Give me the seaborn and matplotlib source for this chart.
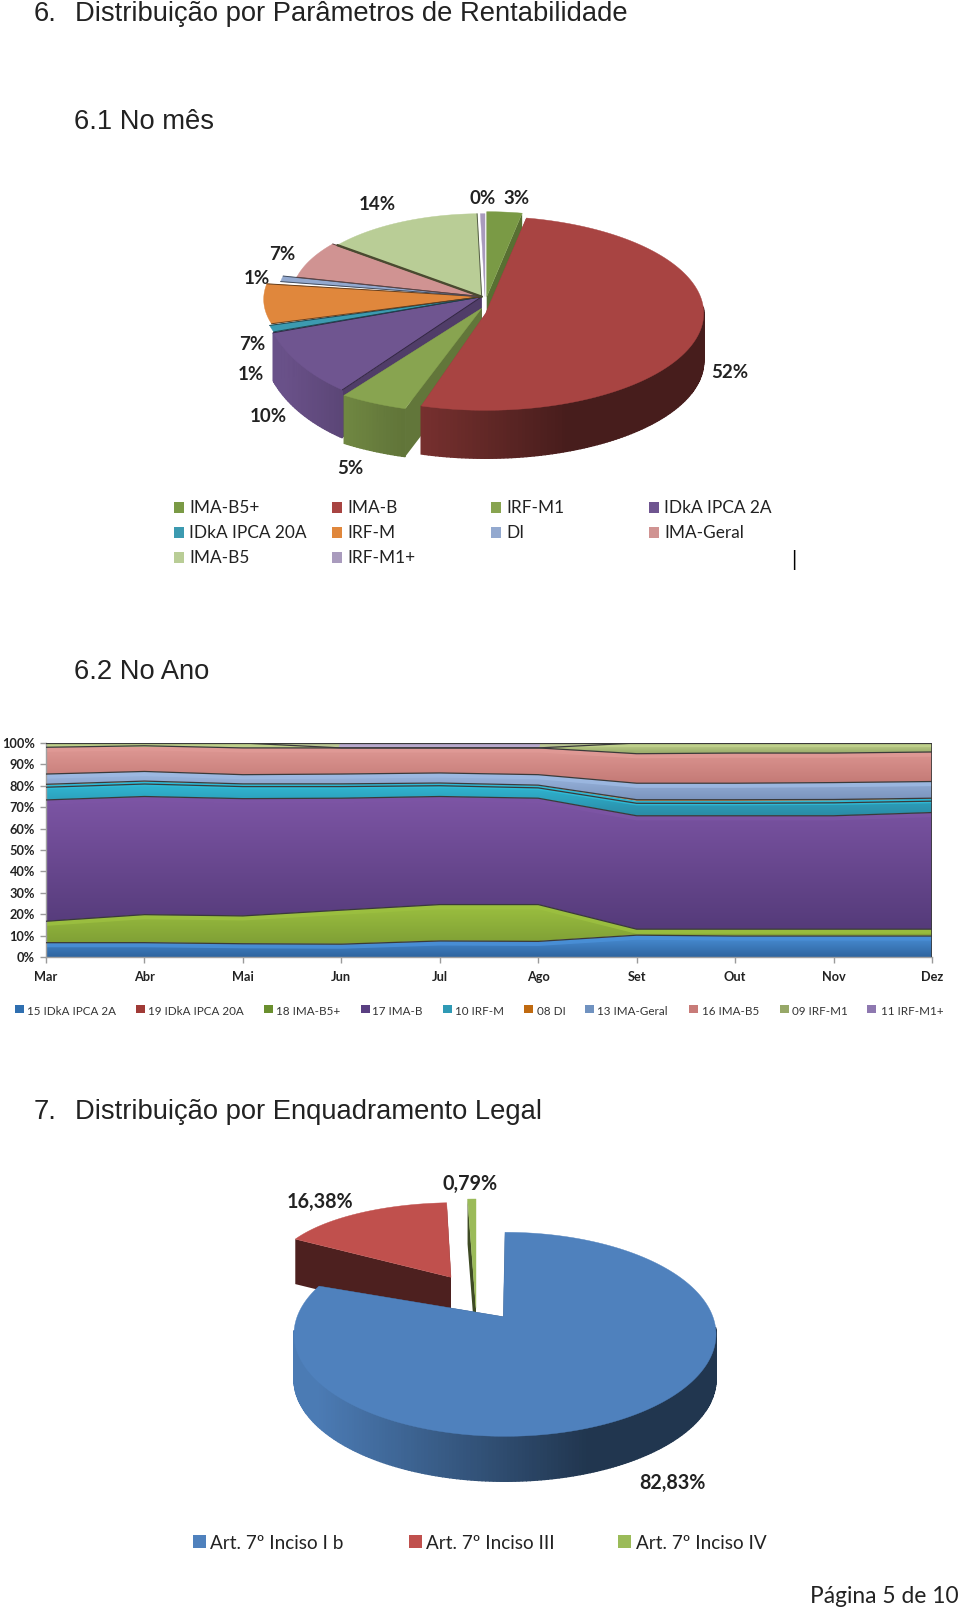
import numpy as np
import pandas as pd
import seaborn as sns
import matplotlib.pyplot as plt
from matplotlib.colors import to_rgb
from matplotlib.patches import Polygon, Rectangle
from matplotlib.transforms import ScaledTranslation

# 6.1 pie
pie1_labels = ['IMA-B5+', 'IMA-B', 'IRF-M1', 'IDkA IPCA 2A', 'IDkA IPCA 20A', 'IRF-M', 'DI', 'IMA-Geral', 'IMA-B5', 'IRF-M1+']
pie1_values = [3, 52, 5, 10, 1, 7, 1, 7, 14, 0.4]
pie1_texts = ['3%', '52%', '5%', '10%', '1%', '7%', '1%', '7%', '14%', '0%']

# 6.2 area chart
months = ['Mar', 'Abr', 'Mai', 'Jun', 'Jul', 'Ago', 'Set', 'Out', 'Nov', 'Dez']
area_labels = ['15 IDkA IPCA 2A', '19 IDkA IPCA 20A', '18 IMA-B5+', '17 IMA-B', '10 IRF-M', '08 DI', '13 IMA-Geral', '16 IMA-B5', '09 IRF-M1', '11 IRF-M1+']
idka2a = [6.7, 6.7, 6.2, 6.0, 7.5, 7.3, 10.2, 9.8, 9.8, 9.8]
idka20a = [0.1, 0.1, 0.1, 0.1, 0.1, 0.1, 0.1, 0.1, 0.1, 0.1]
imab5plus = [9.9, 13.0, 12.9, 15.8, 16.9, 17.1, 2.7, 3.1, 3.1, 3.1]
imab = [56.7, 55.2, 54.8, 52.3, 50.5, 49.7, 53.0, 53.0, 53.0, 54.5]
irfm = [7.1, 7.0, 6.8, 6.6, 6.2, 6.0, 7.0, 7.0, 7.2, 6.5]
di = [0.2, 0.2, 0.1, 0.1, 0.1, 0.1, 0.5, 0.5, 0.4, 0.2]
imageral = [4.8, 4.5, 4.3, 4.6, 4.7, 4.9, 7.7, 7.7, 7.9, 7.8]
imab5 = [12.5, 12.0, 12.5, 12.2, 11.7, 12.5, 13.8, 14.1, 13.8, 13.8]
irfm1 = [2.0, 1.3, 2.3, 0, 0, 0, 5.0, 4.7, 4.7, 4.2]
irfm1plus = [0, 0, 0, 2.3, 2.3, 2.3, 0, 0, 0, 0]

# 7 pie
pie2_labels = ['Art. 7º Inciso I b', 'Art. 7º Inciso III', 'Art. 7º Inciso IV']
pie2_values = [82.83, 16.38, 0.79]
pie2_texts = ['82,83%', '16,38%', '0,79%']

pie1_colors = ['#7a9a45', '#a84442', '#88a450', '#6f5590', '#3c9ab0', '#e0873c', '#93a9cf', '#d09392', '#b9cd96', '#a99bbd']
pie2_colors = ['#4f81bd', '#c0504d', '#9bbb59']
area_top = ['#4a90d8', '#c0504d', '#9cc040', '#7d55a5', '#30bcd8', '#e08a30', '#9db9e2', '#e09a96', '#c0d28c', '#b8a4d8']
area_bot = ['#2f659f', '#8a2f2c', '#7f9f35', '#553b7a', '#2a8aa5', '#b06a20', '#7b94bd', '#c47a76', '#97a868', '#8e78b0']
area_swatch = ['#2f6fb0', '#a03a36', '#6a8f2e', '#5a3f82', '#2f9ab5', '#c06a10', '#7092c0', '#c87b78', '#97a868', '#8e78b0']

# slice shapes in px: apex x, apex y, arc centre x, arc centre y, a, b
pie1_geo = [(486.7, 296.7, 486.7, 296.7, 190, 85),
            (485.7, 313.3, 485.7, 313.3, 218, 97),
            (481.7, 308.3, 469.7, 316.0, 218, 97),
            (481.7, 296.7, 450.0, 295.0, 187, 116),
            (481.7, 296.7, 481.7, 296.7, 220, 108),
            (481.7, 296.7, 481.7, 299.3, 218, 92),
            (481.7, 296.7, 481.7, 296.7, 204, 90),
            (481.7, 296.7, 481.7, 296.7, 190, 85),
            (481.7, 296.7, 481.7, 296.7, 184, 83),
            (485.0, 296.7, 485.0, 296.7, 185, 83)]
pie2_geo = [(503.3, 1316.7, 505.0, 1334.3, 211, 102),
            (451.0, 1277.3, 455.7, 1271.7, 182, 69),
            (476.0, 1308.3, 476.0, 1270.0, 170, 71)]

sns.set_theme(style='white')
plt.rcParams['font.family'] = ['Lato', 'DejaVu Sans']

W, H = 960, 1610
fig = plt.figure(figsize=(W / 100, H / 100), dpi=100)
fig.patch.set_facecolor('white')

# overlay in pixel coords for headings, legends and the 3D pies
ov = fig.add_axes([0, 0, 1, 1], zorder=3)
ov.set_xlim(0, W)
ov.set_ylim(H, 0)
ov.axis('off')
ov.patch.set_alpha(0)


def shade(col, f):
    return tuple(c * f for c in to_rgb(col))


def pie3d(values, colors, geo, depth, face_f, wall_order, outlined=(), sep=None):
    tmp = fig.add_axes([0, 0, 0.01, 0.01])
    wedges, _ = tmp.pie(values, startangle=90, counterclock=False)
    angles = [(w.theta1, w.theta2) for w in wedges]
    tmp.remove()
    z = 1.0
    for k in wall_order:
        t1, t2 = angles[k]
        col = colors[k]
        ax_, ay_, cx, cy, a, b = geo[k]
        ts = np.radians(np.append(np.arange(t1, t2, 1.0), t2))
        xs = cx + a * np.cos(ts)
        ys = cy - b * np.sin(ts)
        # side faces first, then the rim in strips
        for i in [0, -1]:
            q = [(ax_, ay_), (xs[i], ys[i]), (xs[i], ys[i] + depth), (ax_, ay_ + depth)]
            ov.add_patch(Polygon(q, fc=shade(col, face_f), ec='none', zorder=z))
        for i in range(len(ts) - 1):
            if np.sin(ts[i]) < 0.05:
                c = shade(col, np.clip(0.58 - 0.42 * np.cos(ts[i]), 0.42, 0.95))
                q = [(xs[i], ys[i]), (xs[i + 1], ys[i + 1]), (xs[i + 1], ys[i + 1] + depth), (xs[i], ys[i] + depth)]
                ov.add_patch(Polygon(q, fc=c, ec=c, lw=1.0, zorder=z + 0.01))
        z += 0.1
    for k, ((t1, t2), col, (ax_, ay_, cx, cy, a, b)) in enumerate(zip(angles, colors, geo)):
        ts = np.radians(np.append(np.arange(t1, t2, 0.5), t2))
        pts = [(ax_, ay_)] + list(zip(cx + a * np.cos(ts), cy - b * np.sin(ts)))
        ov.add_patch(Polygon(pts, fc=col, ec=col, lw=0.3, zorder=3))
        if k in outlined:
            for p in [pts[1], pts[-1]]:
                ov.plot([ax_, p[0]], [ay_, p[1]], color=shade(col, 0.45), lw=0.7, zorder=3.2)
        if k == sep:
            ov.plot([ax_, pts[-1][0]], [ay_, pts[-1][1]], color='#4a4a30', lw=1.7, zorder=3.5)


def title(x, y, s):
    ov.text(x, y, s, family=['Liberation Sans'], fontsize=19.7, color='#222222', va='center', ha='left')


title(34, 14, '6.')
title(75, 14, 'Distribuição por Parâmetros de Rentabilidade')
title(74, 122, '6.1 No mês')
title(74, 672, '6.2 No Ano')
title(34, 1112, '7.')
title(75, 1112, 'Distribuição por Enquadramento Legal')
ov.text(959, 1596, 'Página 5 de 10', fontsize=16.4, color='#222222', ha='right', va='center')

# 6.1
pie3d(pie1_values, pie1_colors, pie1_geo, 48, 0.72, [3, 0, 2, 1], outlined=(3, 4, 5, 6, 7, 8), sep=8)
p1_pos = [(517, 199), (730, 372), (350, 468), (268, 416), (251, 374), (252, 345), (257, 279), (282, 254), (377, 205), (483, 199)]
for s, (x, y) in zip(pie1_texts, p1_pos):
    ov.text(x, y, s, fontsize=13.5, fontweight='bold', color='#222222', ha='center', va='center')

leg1_x = [173.5, 331.6, 490.8, 649]
leg1_y = [508, 533, 557.5]
for i, (lab, col) in enumerate(zip(pie1_labels, pie1_colors)):
    x = leg1_x[i % 4]
    y = leg1_y[i // 4]
    ov.add_patch(Rectangle((x, y - 6), 10, 11, fc=col, ec='none'))
    ov.text(x + 15.5, y, lab, fontsize=12.4, color='#222222', va='center')
ov.text(794, 560, '|', fontsize=15, color='black', ha='center', va='center')

# 6.2 stacked area
df = pd.DataFrame({'15': idka2a, '19': idka20a, '18': imab5plus, '17': imab, '10': irfm,
                   '08': di, '13': imageral, '16': imab5, '09': irfm1, '11': irfm1plus}, index=months)
x_pos = np.arange(len(months))
ax = fig.add_axes([46 / W, (H - 957) / H, 886 / W, 214 / H], zorder=2)
polys = ax.stackplot(x_pos, df.T.values, colors=area_swatch, linewidth=0)
cum = df.cumsum(axis=1)
for k, poly in enumerate(polys):
    lo = cum.iloc[:, k - 1].min() if k > 0 else 0
    hi = cum.iloc[:, k].max()
    if hi <= lo:
        lo = hi - 1
    grad = np.linspace(0, 1, 64)[:, None, None]
    img = np.array(to_rgb(area_bot[k])) * (1 - grad) + np.array(to_rgb(area_top[k])) * grad
    poly.set_facecolor('none')
    im = ax.imshow(img, extent=[0, 9, lo, hi], origin='lower', aspect='auto', zorder=1)
    im.set_clip_path(poly.get_paths()[0], ax.transData)

# dark edge and light bevel along each band top
down = ScaledTranslation(0, -2.5 / 100, fig.dpi_scale_trans)
for k, name in enumerate(df.columns):
    if df[name].max() < 0.5:
        continue
    top = cum[name].values
    thick = df[name].values
    sns.lineplot(x=x_pos[thick > 0.5], y=top[thick > 0.5], ax=ax, color=area_top[k], lw=3, alpha=0.85, legend=False, errorbar=None, zorder=2)
    ax.lines[-1].set_transform(ax.transData + down)
    sns.lineplot(x=x_pos, y=top, ax=ax, color='#3a3a3a', lw=0.9, legend=False, errorbar=None, zorder=3)
ax.axvline(9, color='#3a3a3a', lw=1.2, zorder=3)

ax.set_xlim(0, 9)
ax.set_ylim(0, 100)
ax.set_xticks(x_pos)
ax.set_xticklabels(months, fontsize=9.2, fontweight='bold', color='#222222')
ax.set_yticks(np.arange(0, 101, 10))
ax.set_yticklabels(['%d%%' % v for v in range(0, 101, 10)], fontsize=9.2, fontweight='bold', color='#222222')
ax.tick_params(axis='x', length=4, width=1, color='#9a9a9a', pad=6, bottom=True)
ax.tick_params(axis='y', length=4, width=1, color='#9a9a9a', pad=4, left=True)
sns.despine(ax=ax)
for s in ['left', 'bottom']:
    ax.spines[s].set_color('#a0a0a0')
    ax.spines[s].set_linewidth(1)

leg2_sw = [15, 136, 264, 361, 443, 524, 585, 689, 780, 867]
leg2_tx = [27, 148, 276, 372, 455, 537, 597, 702, 792, 881]
for lab, col, sx, tx in zip(area_labels, area_swatch, leg2_sw, leg2_tx):
    ov.add_patch(Rectangle((sx, 1005), 9, 8, fc=col, ec='none'))
    ov.text(tx, 1011, lab, fontsize=8.4, color='#333333', va='center')

# 7
pie3d(pie2_values, pie2_colors, pie2_geo, 45, 0.4, [1, 2, 0])
p2_pos = [(672, 1483), (320, 1202), (470, 1184)]
for s, (x, y) in zip(pie2_texts, p2_pos):
    ov.text(x, y, s, fontsize=14.2, fontweight='bold', color='#222222', ha='center', va='center')
for lab, col, sx, tx in zip(pie2_labels, pie2_colors, [193, 409, 618], [210, 426, 636]):
    ov.add_patch(Rectangle((sx, 1535), 13, 13, fc=col, ec='none'))
    ov.text(tx, 1543, lab, fontsize=13.6, color='#222222', va='center')

fig.savefig('out.png', dpi=100)
plt.close()
